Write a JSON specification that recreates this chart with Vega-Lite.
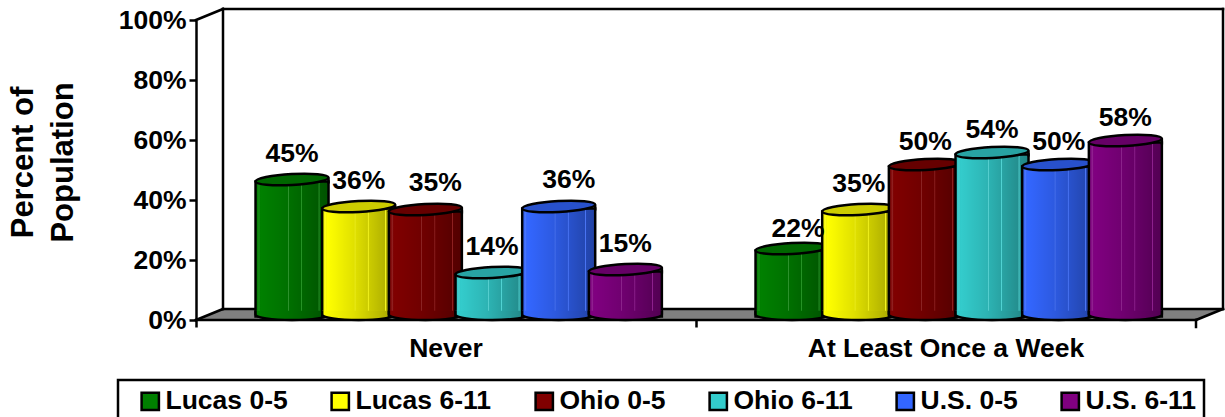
{"$schema":"https://vega.github.io/schema/vega-lite/v6.json","width":1000,"height":300,"autosize":{"type":"none"},"padding":{"left":196,"top":20,"right":29,"bottom":97},"background":"white","config":{"view":{"stroke":null},"font":"Liberation Sans","legend":{"strokeWidth":2.5}},
"datasets":{"bars":[{"cat":"Never","series":"Lucas 0-5","pct":0.45},{"cat":"Never","series":"Lucas 6-11","pct":0.36},{"cat":"Never","series":"Ohio 0-5","pct":0.35},{"cat":"Never","series":"Ohio 6-11","pct":0.14},{"cat":"Never","series":"U.S. 0-5","pct":0.36},{"cat":"Never","series":"U.S. 6-11","pct":0.15},{"cat":"At Least Once a Week","series":"Lucas 0-5","pct":0.22},{"cat":"At Least Once a Week","series":"Lucas 6-11","pct":0.35},{"cat":"At Least Once a Week","series":"Ohio 0-5","pct":0.50},{"cat":"At Least Once a Week","series":"Ohio 6-11","pct":0.54},{"cat":"At Least Once a Week","series":"U.S. 0-5","pct":0.50},{"cat":"At Least Once a Week","series":"U.S. 6-11","pct":0.58}],
"floor":[{"cx":0,"lo":0,"hi":0},{"cx":0.054,"lo":0,"hi":0.0367},{"cx":2,"lo":0,"hi":0.0367},{"cx":2.054,"lo":0.0367,"hi":0.0367}],
"frame":[{"edge":"A","cx":0,"v":1},{"edge":"A","cx":0.054,"v":1.0367},{"edge":"B","cx":0.054,"v":1.0367},{"edge":"B","cx":2.054,"v":1.0367},{"edge":"C","cx":0.054,"v":1.0367},{"edge":"C","cx":0.054,"v":0.0367},{"edge":"D","cx":2.054,"v":1.0367},{"edge":"D","cx":2.054,"v":0.0367},{"edge":"E","cx":0.054,"v":0.0367},{"edge":"E","cx":2.054,"v":0.0367},{"edge":"F","cx":0,"v":0},{"edge":"F","cx":0.054,"v":0.0367},{"edge":"G","cx":2,"v":0},{"edge":"G","cx":2.054,"v":0.0367},{"edge":"H","cx":0,"v":0},{"edge":"H","cx":2,"v":0},{"edge":"I","cx":2,"v":0},{"edge":"I","cx":2,"v":-0.0233}]},
"data":{"name":"bars"},
"resolve":{"scale":{"x":"independent"},"axis":{"x":"independent"}},
"layer":[
{"data":{"name":"floor"},"mark":{"type":"area","color":"#808080","clip":false},"encoding":{"x":{"field":"cx","type":"quantitative","scale":{"domain":[0,2],"nice":false},"axis":null},"y":{"field":"lo","type":"quantitative","scale":{"domain":[0,1],"nice":false}},"y2":{"field":"hi"}}},
{"data":{"name":"frame"},"mark":{"type":"line","color":"black","strokeWidth":2.5,"strokeCap":"square","clip":false},"encoding":{"x":{"field":"cx","type":"quantitative","scale":{"domain":[0,2],"nice":false},"axis":null},"y":{"field":"v","type":"quantitative"},"detail":{"field":"edge"}}},
{"encoding":{"x":{"field":"cat","type":"nominal","sort":["Never","At Least Once a Week"],"scale":{"paddingInner":0,"paddingOuter":0},"axis":{"title":null,"labelAngle":0,"labelFontSize":26.5,"labelFont":"Liberation Sans","labelFontWeight":"bold","labelColor":"black","labelLimit":500,"bandPosition":0,"domain":false,"tickColor":"black","tickWidth":2.5,"tickSize":7,"labelPadding":8,"labelBaseline":"top"}},
"xOffset":{"field":"series","type":"nominal","sort":["Lucas 0-5","Lucas 6-11","Ohio 0-5","Ohio 6-11","U.S. 0-5","U.S. 6-11"],"scale":{"paddingInner":0,"paddingOuter":0.75,"align":0.627}},
"y":{"field":"pct","type":"quantitative","scale":{"domain":[0,1],"nice":false},"axis":{"title":["Percent of","Population"],"titleFont":"Liberation Sans","titleFontSize":31,"titleFontWeight":"bold","titleColor":"black","titleLineHeight":40,"titleX":-157,"titleY":142,"titleAngle":-90,"values":[0,0.2,0.4,0.6,0.8,1],"format":".0%","grid":false,"labelFontSize":26.5,"labelFont":"Liberation Sans","labelFontWeight":"bold","labelColor":"black","labelPadding":3,"domainColor":"black","domainWidth":2.5,"tickColor":"black","tickWidth":2.5,"tickSize":7}},
"fill":{"field":"series","type":"nominal","scale":{"domain":["Lucas 0-5","Lucas 6-11","Ohio 0-5","Ohio 6-11","U.S. 0-5","U.S. 6-11"],"range":["#008000","#FFFF00","#800000","#33CCCC","#3366FF","#800080"]},"legend":{"title":" ","titleOrient":"left","titlePadding":11,"orient":"none","legendX":-78,"legendY":360,"direction":"horizontal","columns":6,"columnPadding":38,"symbolType":"square","symbolSize":300,"symbolStrokeColor":"black","symbolStrokeWidth":2.5,"symbolOpacity":1,"labelFont":"Liberation Sans","labelFontSize":26.5,"labelFontWeight":"bold","labelColor":"black","labelOffset":2,"labelLimit":300,"strokeColor":"black","fillColor":"white","padding":8}}},
"layer":[
{"transform":[{"filter":"datum.series==='Lucas 0-5'"}],"layer":[
{"mark":{"type":"bar","width":73,"yOffset":-3.5,"y2Offset":-5.5,"stroke":"black","strokeWidth":2.5}},
{"mark":{"type":"bar","width":73,"yOffset":-3.5,"y2Offset":-5.5,"fill":{"x1":0,"y1":0,"x2":1,"y2":0,"gradient":"linear","stops":[{"offset":0,"color":"rgba(0,0,0,0)"},{"offset":0.05,"color":"rgba(255,255,255,0.12)"},{"offset":0.07,"color":"rgba(0,0,0,0)"},{"offset":0.44,"color":"rgba(0,0,0,0.12)"},{"offset":0.45,"color":"rgba(255,255,255,0.22)"},{"offset":0.46,"color":"rgba(0,0,0,0.13)"},{"offset":0.62,"color":"rgba(0,0,0,0.2)"},{"offset":0.63,"color":"rgba(255,255,255,0.15)"},{"offset":0.64,"color":"rgba(0,0,0,0.2)"},{"offset":0.86,"color":"rgba(0,0,0,0.3)"},{"offset":0.87,"color":"rgba(255,255,255,0.12)"},{"offset":0.88,"color":"rgba(0,0,0,0.3)"},{"offset":1,"color":"rgba(0,0,0,0.36)"}]}},"encoding":{"fill":null}},
{"mark":{"type":"point","filled":true,"opacity":1,"stroke":"black","strokeWidth":2.5,"size":5329,"yOffset":-5.5,"shape":"M-1,-0.1 L-1,0 A1,0.15 0 0 0 1,0 L1,-0.1"},"encoding":{"y":{"datum":0}}},
{"mark":{"type":"point","filled":true,"opacity":1,"size":5329,"yOffset":-5.5,"shape":"M-1,-0.1 L-1,0 A1,0.15 0 0 0 1,0 L1,-0.1","fill":{"x1":0,"y1":0,"x2":1,"y2":0,"gradient":"linear","stops":[{"offset":0,"color":"rgba(0,0,0,0)"},{"offset":0.44,"color":"rgba(0,0,0,0.12)"},{"offset":0.62,"color":"rgba(0,0,0,0.2)"},{"offset":0.86,"color":"rgba(0,0,0,0.3)"},{"offset":1,"color":"rgba(0,0,0,0.36)"}]}},"encoding":{"y":{"datum":0},"fill":null}},
{"mark":{"type":"point","filled":true,"opacity":1,"stroke":"black","strokeWidth":2.5,"size":5329,"yOffset":-5.5,"shape":"M-1,0.055 A1.001,0.15 -3.15 1 1 1,-0.055 A1.001,0.15 -3.15 1 1 -1,0.055 Z M1,-0.055 L1,0.11"}},
{"mark":{"type":"point","filled":true,"opacity":1,"fill":"black","fillOpacity":0.2,"size":5329,"yOffset":-5.5,"shape":"M-1,0.055 A1.001,0.15 -3.15 1 1 1,-0.055 A1.001,0.15 -3.15 1 1 -1,0.055 Z"},"encoding":{"fill":null}}
]},
{"transform":[{"filter":"datum.series==='Lucas 6-11'"}],"layer":[
{"mark":{"type":"bar","width":73,"yOffset":-3.5,"y2Offset":-5.5,"stroke":"black","strokeWidth":2.5}},
{"mark":{"type":"bar","width":73,"yOffset":-3.5,"y2Offset":-5.5,"fill":{"x1":0,"y1":0,"x2":1,"y2":0,"gradient":"linear","stops":[{"offset":0,"color":"rgba(0,0,0,0)"},{"offset":0.05,"color":"rgba(255,255,255,0.12)"},{"offset":0.07,"color":"rgba(0,0,0,0)"},{"offset":0.44,"color":"rgba(0,0,0,0.12)"},{"offset":0.45,"color":"rgba(255,255,255,0.22)"},{"offset":0.46,"color":"rgba(0,0,0,0.13)"},{"offset":0.62,"color":"rgba(0,0,0,0.2)"},{"offset":0.63,"color":"rgba(255,255,255,0.15)"},{"offset":0.64,"color":"rgba(0,0,0,0.2)"},{"offset":0.86,"color":"rgba(0,0,0,0.3)"},{"offset":0.87,"color":"rgba(255,255,255,0.12)"},{"offset":0.88,"color":"rgba(0,0,0,0.3)"},{"offset":1,"color":"rgba(0,0,0,0.36)"}]}},"encoding":{"fill":null}},
{"mark":{"type":"point","filled":true,"opacity":1,"stroke":"black","strokeWidth":2.5,"size":5329,"yOffset":-5.5,"shape":"M-1,-0.1 L-1,0 A1,0.15 0 0 0 1,0 L1,-0.1"},"encoding":{"y":{"datum":0}}},
{"mark":{"type":"point","filled":true,"opacity":1,"size":5329,"yOffset":-5.5,"shape":"M-1,-0.1 L-1,0 A1,0.15 0 0 0 1,0 L1,-0.1","fill":{"x1":0,"y1":0,"x2":1,"y2":0,"gradient":"linear","stops":[{"offset":0,"color":"rgba(0,0,0,0)"},{"offset":0.44,"color":"rgba(0,0,0,0.12)"},{"offset":0.62,"color":"rgba(0,0,0,0.2)"},{"offset":0.86,"color":"rgba(0,0,0,0.3)"},{"offset":1,"color":"rgba(0,0,0,0.36)"}]}},"encoding":{"y":{"datum":0},"fill":null}},
{"mark":{"type":"point","filled":true,"opacity":1,"stroke":"black","strokeWidth":2.5,"size":5329,"yOffset":-5.5,"shape":"M-1,0.055 A1.001,0.15 -3.15 1 1 1,-0.055 A1.001,0.15 -3.15 1 1 -1,0.055 Z M1,-0.055 L1,0.11"}},
{"mark":{"type":"point","filled":true,"opacity":1,"fill":"black","fillOpacity":0.2,"size":5329,"yOffset":-5.5,"shape":"M-1,0.055 A1.001,0.15 -3.15 1 1 1,-0.055 A1.001,0.15 -3.15 1 1 -1,0.055 Z"},"encoding":{"fill":null}}
]},
{"transform":[{"filter":"datum.series==='Ohio 0-5'"}],"layer":[
{"mark":{"type":"bar","width":73,"yOffset":-3.5,"y2Offset":-5.5,"stroke":"black","strokeWidth":2.5}},
{"mark":{"type":"bar","width":73,"yOffset":-3.5,"y2Offset":-5.5,"fill":{"x1":0,"y1":0,"x2":1,"y2":0,"gradient":"linear","stops":[{"offset":0,"color":"rgba(0,0,0,0)"},{"offset":0.05,"color":"rgba(255,255,255,0.12)"},{"offset":0.07,"color":"rgba(0,0,0,0)"},{"offset":0.44,"color":"rgba(0,0,0,0.12)"},{"offset":0.45,"color":"rgba(255,255,255,0.22)"},{"offset":0.46,"color":"rgba(0,0,0,0.13)"},{"offset":0.62,"color":"rgba(0,0,0,0.2)"},{"offset":0.63,"color":"rgba(255,255,255,0.15)"},{"offset":0.64,"color":"rgba(0,0,0,0.2)"},{"offset":0.86,"color":"rgba(0,0,0,0.3)"},{"offset":0.87,"color":"rgba(255,255,255,0.12)"},{"offset":0.88,"color":"rgba(0,0,0,0.3)"},{"offset":1,"color":"rgba(0,0,0,0.36)"}]}},"encoding":{"fill":null}},
{"mark":{"type":"point","filled":true,"opacity":1,"stroke":"black","strokeWidth":2.5,"size":5329,"yOffset":-5.5,"shape":"M-1,-0.1 L-1,0 A1,0.15 0 0 0 1,0 L1,-0.1"},"encoding":{"y":{"datum":0}}},
{"mark":{"type":"point","filled":true,"opacity":1,"size":5329,"yOffset":-5.5,"shape":"M-1,-0.1 L-1,0 A1,0.15 0 0 0 1,0 L1,-0.1","fill":{"x1":0,"y1":0,"x2":1,"y2":0,"gradient":"linear","stops":[{"offset":0,"color":"rgba(0,0,0,0)"},{"offset":0.44,"color":"rgba(0,0,0,0.12)"},{"offset":0.62,"color":"rgba(0,0,0,0.2)"},{"offset":0.86,"color":"rgba(0,0,0,0.3)"},{"offset":1,"color":"rgba(0,0,0,0.36)"}]}},"encoding":{"y":{"datum":0},"fill":null}},
{"mark":{"type":"point","filled":true,"opacity":1,"stroke":"black","strokeWidth":2.5,"size":5329,"yOffset":-5.5,"shape":"M-1,0.055 A1.001,0.15 -3.15 1 1 1,-0.055 A1.001,0.15 -3.15 1 1 -1,0.055 Z M1,-0.055 L1,0.11"}},
{"mark":{"type":"point","filled":true,"opacity":1,"fill":"black","fillOpacity":0.2,"size":5329,"yOffset":-5.5,"shape":"M-1,0.055 A1.001,0.15 -3.15 1 1 1,-0.055 A1.001,0.15 -3.15 1 1 -1,0.055 Z"},"encoding":{"fill":null}}
]},
{"transform":[{"filter":"datum.series==='Ohio 6-11'"}],"layer":[
{"mark":{"type":"bar","width":73,"yOffset":-3.5,"y2Offset":-5.5,"stroke":"black","strokeWidth":2.5}},
{"mark":{"type":"bar","width":73,"yOffset":-3.5,"y2Offset":-5.5,"fill":{"x1":0,"y1":0,"x2":1,"y2":0,"gradient":"linear","stops":[{"offset":0,"color":"rgba(0,0,0,0)"},{"offset":0.05,"color":"rgba(255,255,255,0.12)"},{"offset":0.07,"color":"rgba(0,0,0,0)"},{"offset":0.44,"color":"rgba(0,0,0,0.12)"},{"offset":0.45,"color":"rgba(255,255,255,0.22)"},{"offset":0.46,"color":"rgba(0,0,0,0.13)"},{"offset":0.62,"color":"rgba(0,0,0,0.2)"},{"offset":0.63,"color":"rgba(255,255,255,0.15)"},{"offset":0.64,"color":"rgba(0,0,0,0.2)"},{"offset":0.86,"color":"rgba(0,0,0,0.3)"},{"offset":0.87,"color":"rgba(255,255,255,0.12)"},{"offset":0.88,"color":"rgba(0,0,0,0.3)"},{"offset":1,"color":"rgba(0,0,0,0.36)"}]}},"encoding":{"fill":null}},
{"mark":{"type":"point","filled":true,"opacity":1,"stroke":"black","strokeWidth":2.5,"size":5329,"yOffset":-5.5,"shape":"M-1,-0.1 L-1,0 A1,0.15 0 0 0 1,0 L1,-0.1"},"encoding":{"y":{"datum":0}}},
{"mark":{"type":"point","filled":true,"opacity":1,"size":5329,"yOffset":-5.5,"shape":"M-1,-0.1 L-1,0 A1,0.15 0 0 0 1,0 L1,-0.1","fill":{"x1":0,"y1":0,"x2":1,"y2":0,"gradient":"linear","stops":[{"offset":0,"color":"rgba(0,0,0,0)"},{"offset":0.44,"color":"rgba(0,0,0,0.12)"},{"offset":0.62,"color":"rgba(0,0,0,0.2)"},{"offset":0.86,"color":"rgba(0,0,0,0.3)"},{"offset":1,"color":"rgba(0,0,0,0.36)"}]}},"encoding":{"y":{"datum":0},"fill":null}},
{"mark":{"type":"point","filled":true,"opacity":1,"stroke":"black","strokeWidth":2.5,"size":5329,"yOffset":-5.5,"shape":"M-1,0.055 A1.001,0.15 -3.15 1 1 1,-0.055 A1.001,0.15 -3.15 1 1 -1,0.055 Z M1,-0.055 L1,0.11"}},
{"mark":{"type":"point","filled":true,"opacity":1,"fill":"black","fillOpacity":0.2,"size":5329,"yOffset":-5.5,"shape":"M-1,0.055 A1.001,0.15 -3.15 1 1 1,-0.055 A1.001,0.15 -3.15 1 1 -1,0.055 Z"},"encoding":{"fill":null}}
]},
{"transform":[{"filter":"datum.series==='U.S. 0-5'"}],"layer":[
{"mark":{"type":"bar","width":73,"yOffset":-3.5,"y2Offset":-5.5,"stroke":"black","strokeWidth":2.5}},
{"mark":{"type":"bar","width":73,"yOffset":-3.5,"y2Offset":-5.5,"fill":{"x1":0,"y1":0,"x2":1,"y2":0,"gradient":"linear","stops":[{"offset":0,"color":"rgba(0,0,0,0)"},{"offset":0.05,"color":"rgba(255,255,255,0.12)"},{"offset":0.07,"color":"rgba(0,0,0,0)"},{"offset":0.44,"color":"rgba(0,0,0,0.12)"},{"offset":0.45,"color":"rgba(255,255,255,0.22)"},{"offset":0.46,"color":"rgba(0,0,0,0.13)"},{"offset":0.62,"color":"rgba(0,0,0,0.2)"},{"offset":0.63,"color":"rgba(255,255,255,0.15)"},{"offset":0.64,"color":"rgba(0,0,0,0.2)"},{"offset":0.86,"color":"rgba(0,0,0,0.3)"},{"offset":0.87,"color":"rgba(255,255,255,0.12)"},{"offset":0.88,"color":"rgba(0,0,0,0.3)"},{"offset":1,"color":"rgba(0,0,0,0.36)"}]}},"encoding":{"fill":null}},
{"mark":{"type":"point","filled":true,"opacity":1,"stroke":"black","strokeWidth":2.5,"size":5329,"yOffset":-5.5,"shape":"M-1,-0.1 L-1,0 A1,0.15 0 0 0 1,0 L1,-0.1"},"encoding":{"y":{"datum":0}}},
{"mark":{"type":"point","filled":true,"opacity":1,"size":5329,"yOffset":-5.5,"shape":"M-1,-0.1 L-1,0 A1,0.15 0 0 0 1,0 L1,-0.1","fill":{"x1":0,"y1":0,"x2":1,"y2":0,"gradient":"linear","stops":[{"offset":0,"color":"rgba(0,0,0,0)"},{"offset":0.44,"color":"rgba(0,0,0,0.12)"},{"offset":0.62,"color":"rgba(0,0,0,0.2)"},{"offset":0.86,"color":"rgba(0,0,0,0.3)"},{"offset":1,"color":"rgba(0,0,0,0.36)"}]}},"encoding":{"y":{"datum":0},"fill":null}},
{"mark":{"type":"point","filled":true,"opacity":1,"stroke":"black","strokeWidth":2.5,"size":5329,"yOffset":-5.5,"shape":"M-1,0.055 A1.001,0.15 -3.15 1 1 1,-0.055 A1.001,0.15 -3.15 1 1 -1,0.055 Z M1,-0.055 L1,0.11"}},
{"mark":{"type":"point","filled":true,"opacity":1,"fill":"black","fillOpacity":0.2,"size":5329,"yOffset":-5.5,"shape":"M-1,0.055 A1.001,0.15 -3.15 1 1 1,-0.055 A1.001,0.15 -3.15 1 1 -1,0.055 Z"},"encoding":{"fill":null}}
]},
{"transform":[{"filter":"datum.series==='U.S. 6-11'"}],"layer":[
{"mark":{"type":"bar","width":73,"yOffset":-3.5,"y2Offset":-5.5,"stroke":"black","strokeWidth":2.5}},
{"mark":{"type":"bar","width":73,"yOffset":-3.5,"y2Offset":-5.5,"fill":{"x1":0,"y1":0,"x2":1,"y2":0,"gradient":"linear","stops":[{"offset":0,"color":"rgba(0,0,0,0)"},{"offset":0.05,"color":"rgba(255,255,255,0.12)"},{"offset":0.07,"color":"rgba(0,0,0,0)"},{"offset":0.44,"color":"rgba(0,0,0,0.12)"},{"offset":0.45,"color":"rgba(255,255,255,0.22)"},{"offset":0.46,"color":"rgba(0,0,0,0.13)"},{"offset":0.62,"color":"rgba(0,0,0,0.2)"},{"offset":0.63,"color":"rgba(255,255,255,0.15)"},{"offset":0.64,"color":"rgba(0,0,0,0.2)"},{"offset":0.86,"color":"rgba(0,0,0,0.3)"},{"offset":0.87,"color":"rgba(255,255,255,0.12)"},{"offset":0.88,"color":"rgba(0,0,0,0.3)"},{"offset":1,"color":"rgba(0,0,0,0.36)"}]}},"encoding":{"fill":null}},
{"mark":{"type":"point","filled":true,"opacity":1,"stroke":"black","strokeWidth":2.5,"size":5329,"yOffset":-5.5,"shape":"M-1,-0.1 L-1,0 A1,0.15 0 0 0 1,0 L1,-0.1"},"encoding":{"y":{"datum":0}}},
{"mark":{"type":"point","filled":true,"opacity":1,"size":5329,"yOffset":-5.5,"shape":"M-1,-0.1 L-1,0 A1,0.15 0 0 0 1,0 L1,-0.1","fill":{"x1":0,"y1":0,"x2":1,"y2":0,"gradient":"linear","stops":[{"offset":0,"color":"rgba(0,0,0,0)"},{"offset":0.44,"color":"rgba(0,0,0,0.12)"},{"offset":0.62,"color":"rgba(0,0,0,0.2)"},{"offset":0.86,"color":"rgba(0,0,0,0.3)"},{"offset":1,"color":"rgba(0,0,0,0.36)"}]}},"encoding":{"y":{"datum":0},"fill":null}},
{"mark":{"type":"point","filled":true,"opacity":1,"stroke":"black","strokeWidth":2.5,"size":5329,"yOffset":-5.5,"shape":"M-1,0.055 A1.001,0.15 -3.15 1 1 1,-0.055 A1.001,0.15 -3.15 1 1 -1,0.055 Z M1,-0.055 L1,0.11"}},
{"mark":{"type":"point","filled":true,"opacity":1,"fill":"black","fillOpacity":0.2,"size":5329,"yOffset":-5.5,"shape":"M-1,0.055 A1.001,0.15 -3.15 1 1 1,-0.055 A1.001,0.15 -3.15 1 1 -1,0.055 Z"},"encoding":{"fill":null}}
]},
{"transform":[{"filter":"(datum.cat==='Never'&&datum.series!=='Ohio 0-5'&&datum.series!=='U.S. 0-5')||datum.series==='Lucas 6-11'&&datum.cat!=='Never'"}],"mark":{"type":"text","font":"Liberation Sans","fontSize":26.5,"fontWeight":"bold","color":"black","yOffset":-31,"baseline":"middle"},"encoding":{"fill":null,"text":{"field":"pct","type":"quantitative","format":".0%"}}},
{"transform":[{"filter":"datum.cat==='Never'&&(datum.series==='Ohio 0-5'||datum.series==='U.S. 0-5')"}],"mark":{"type":"text","font":"Liberation Sans","fontSize":26.5,"fontWeight":"bold","color":"black","yOffset":-32,"dx":10,"baseline":"middle"},"encoding":{"fill":null,"text":{"field":"pct","type":"quantitative","format":".0%"}}},
{"transform":[{"filter":"datum.cat!=='Never'&&datum.pct>=0.5"}],"mark":{"type":"text","font":"Liberation Sans","fontSize":26.5,"fontWeight":"bold","color":"black","yOffset":-28,"baseline":"middle"},"encoding":{"fill":null,"text":{"field":"pct","type":"quantitative","format":".0%"}}},
{"transform":[{"filter":"datum.cat!=='Never'&&datum.series==='Lucas 0-5'"}],"mark":{"type":"text","font":"Liberation Sans","fontSize":26.5,"fontWeight":"bold","color":"black","yOffset":-25,"dx":6,"baseline":"middle"},"encoding":{"fill":null,"text":{"field":"pct","type":"quantitative","format":".0%"}}}
]}
]}
